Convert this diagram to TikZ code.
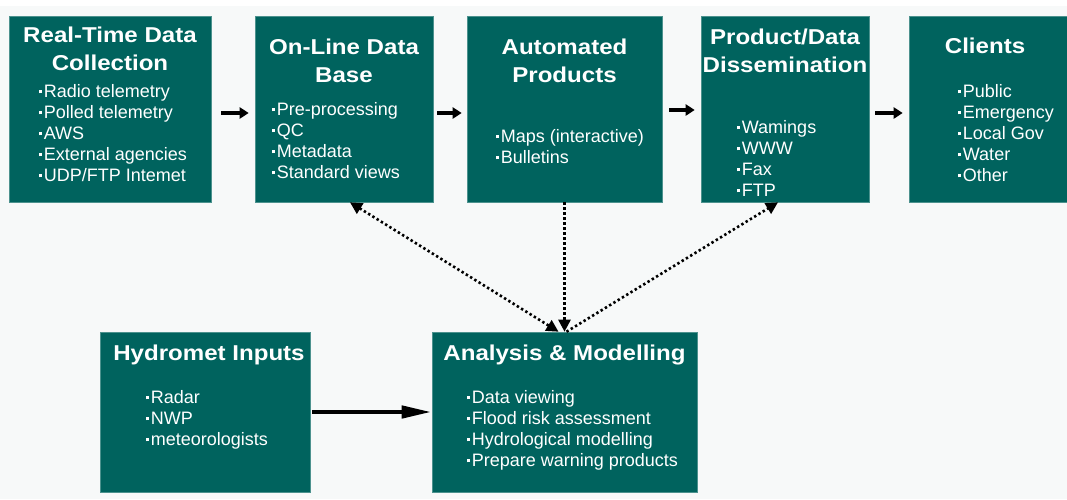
\documentclass[tikz,border=0pt]{standalone}
\usepackage{fontspec}
\setmainfont{Liberation Sans}
\newfontfamily\headfont[FakeStretch=1.12]{Liberation Sans}
\usetikzlibrary{arrows.meta}
\definecolor{boxgreen}{RGB}{0,99,94}
\definecolor{paper}{RGB}{247,249,249}
\newcommand{\sq}{\rule[3.8pt]{3.2pt}{3.2pt}\hspace{1.5pt}}

\begin{document}
\begin{tikzpicture}[x=1pt,y=-1pt,
  box/.style={fill=boxgreen,draw=boxgreen!70!white,line width=0.6pt,inner sep=0pt},
  ttl/.style={text=white,font=\headfont\bfseries\fontsize{21.5}{28}\selectfont,align=center,anchor=north,inner sep=0pt},
  lst/.style={text=white,font=\fontsize{18}{21}\selectfont,align=left,anchor=north west,inner sep=0pt},
  flow/.style={line width=3.8pt,-{Triangle[length=9pt,width=11pt]}},
  dtip/.tip={Triangle[length=12pt,width=12pt]},
  dots/.style={line width=2.6pt,dash pattern=on 2.4pt off 2.6pt}]
 \useasboundingbox (0,0) rectangle (1067,499);
 \fill[paper] (0,6) rectangle (1067,499);
 % top row
 \node[box,minimum width=202pt,minimum height=186pt] (rt) at (110,109) {};
 \node[box,minimum width=178pt,minimum height=186pt] (db) at (344,109) {};
 \node[box,minimum width=195pt,minimum height=186pt] (ap) at (564.5,109) {};
 \node[box,minimum width=168pt,minimum height=186pt] (pd) at (785,109) {};
 \node[box,minimum width=159pt,minimum height=186pt] (cl) at (988.5,109) {};
 % bottom row
 \node[box,minimum width=210pt,minimum height=160pt] (hi) at (205,412) {};
 \node[box,minimum width=265pt,minimum height=160pt] (am) at (564.5,412) {};
 % titles
 \node[ttl] (rtT) at (110,22.4) {\strut Real-Time Data\\Collection};
 \node[ttl] (dbT) at (344,34.4) {\strut On-Line Data\\Base};
 \node[ttl] (apT) at (564.5,34.4) {\strut Automated\\Products};
 \node[ttl] (pdT) at (785,24.4) {\strut Product/Data\\Dissemination};
 \node[ttl] (clT) at (985,33.4) {\strut Clients};
 \node[ttl] (hiT) at (209,340.4) {\strut Hydromet Inputs};
 \node[ttl] (amT) at (564.5,340.4) {\strut Analysis \& Modelling};
 % lists
 \node[lst] (rtL) at (39,82.3) {\strut\sq Radio telemetry\\\sq Polled telemetry\\\sq AWS\\\sq External agencies\\\sq UDP/FTP Intemet};
 \node[lst] (dbL) at (272,100.3) {\strut\sq Pre-processing\\\sq QC\\\sq Metadata\\\sq Standard views};
 \node[lst] (apL) at (496,127.3) {\strut\sq Maps (interactive)\\\sq Bulletins};
 \node[lst] (pdL) at (737,118.3) {\strut\sq Wamings\\\sq WWW\\\sq Fax\\\sq FTP};
 \node[lst] (clL) at (958,82.3) {\strut\sq Public\\\sq Emergency\\\sq Local Gov\\\sq Water\\\sq Other};
 \node[lst] (hiL) at (146,388.3) {\strut\sq Radar\\\sq NWP\\\sq meteorologists};
 \node[lst] (amL) at (467,388.3) {\strut\sq Data viewing\\\sq Flood risk assessment\\\sq Hydrological modelling\\\sq Prepare warning products};
 % flow arrows
 \draw[flow,shorten <=10pt,shorten >=6pt] ([yshift=-4pt]rt.east) -- ([yshift=-4pt]db.west);
 \draw[flow,shorten <=4pt,shorten >=5pt] ([yshift=-4pt]db.east) -- ([yshift=-4pt]ap.west);
 \draw[flow,shorten <=7pt,shorten >=6pt] ([yshift=-1pt]ap.east) -- ([yshift=-1pt]pd.west);
 \draw[flow,shorten <=6pt,shorten >=6pt] ([yshift=-4pt]pd.east) -- ([yshift=-4pt]cl.west);
 \draw[line width=4.5pt,-{Triangle[length=30pt,width=12pt]},shorten <=2pt] (hi.east) -- (am.west);
 % dotted links
 \draw[dots,dtip-dtip] ([xshift=6pt]db.south) -- ([xshift=-6pt]am.north);
 \draw[dots,-dtip] (ap.south) -- (am.north);
 \draw[dots,-dtip] ([xshift=2pt]am.north) -- ([xshift=-7pt]pd.south);
\end{tikzpicture}
\end{document}
